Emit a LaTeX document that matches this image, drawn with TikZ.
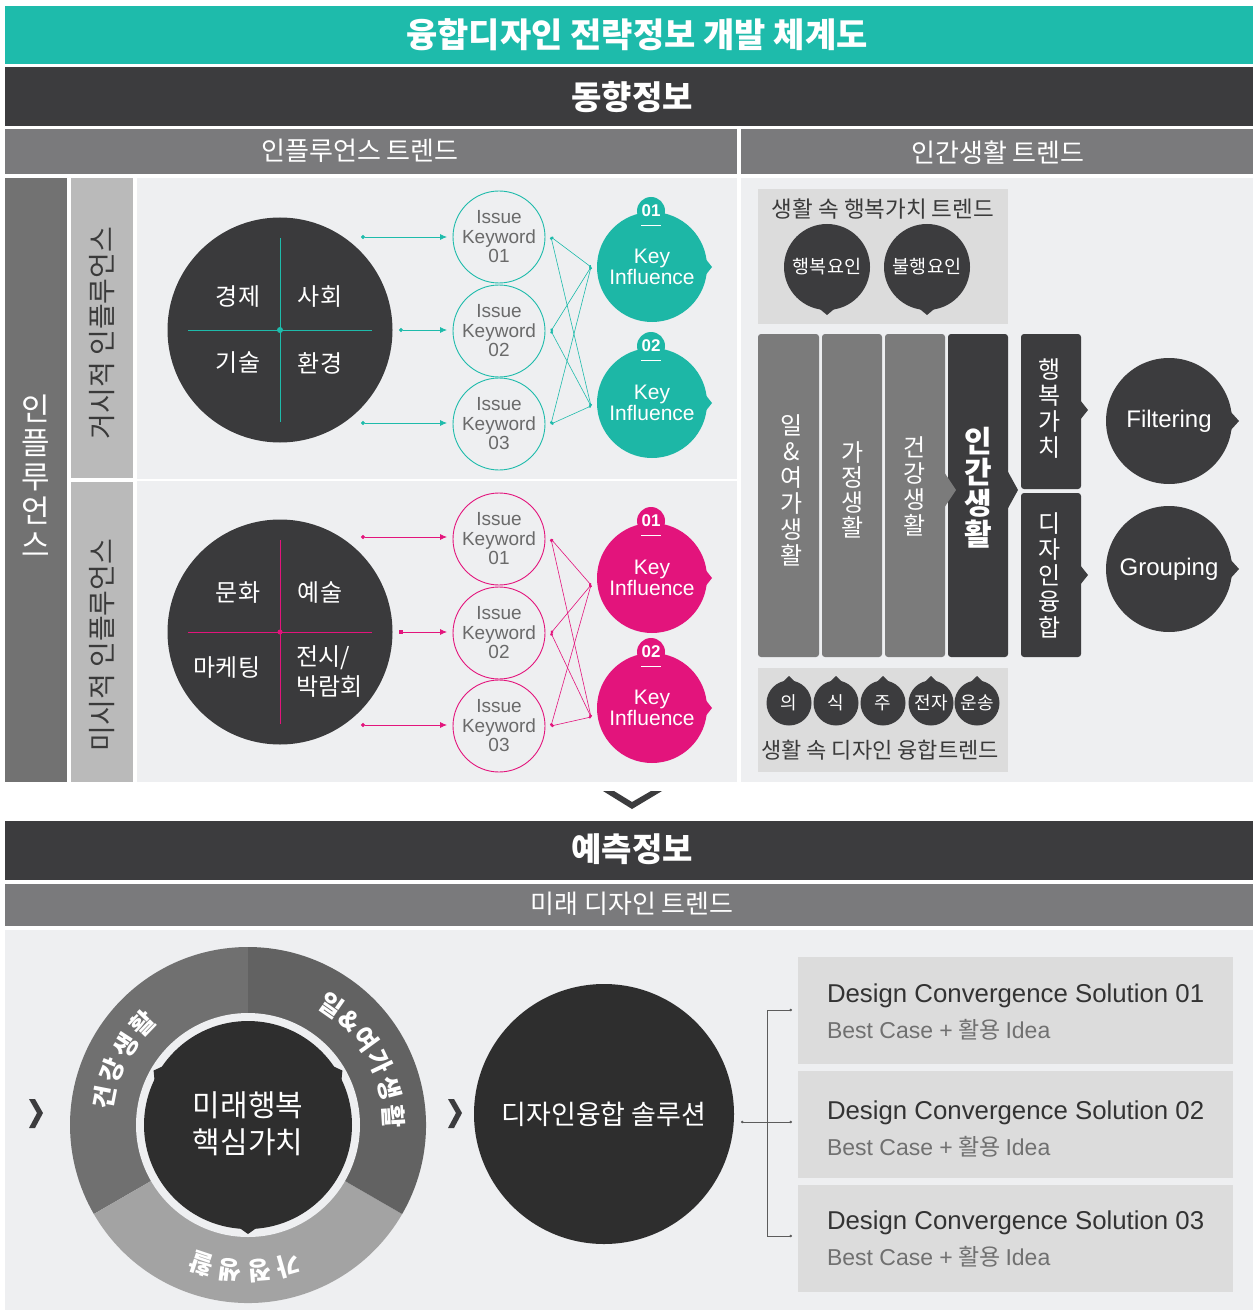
\documentclass[tikz,border=0pt]{standalone}
\usepackage{fontspec}
\setmainfont{Noto Sans CJK KR}
\newfontfamily\lat{Liberation Sans}
\usetikzlibrary{calc,arrows.meta}
\definecolor{teal1}{HTML}{1EBBAB}
\definecolor{kiteal}{HTML}{1DB7A6}
\definecolor{magen}{HTML}{E3147C}
\definecolor{dk}{HTML}{3C3C3E}
\definecolor{circdk}{HTML}{3A3A3C}
\definecolor{gbar}{HTML}{7A7A7C}
\definecolor{gcol}{HTML}{727272}
\definecolor{lgcol}{HTML}{BABABA}
\definecolor{panel}{HTML}{EEEFF1}
\definecolor{boxg}{HTML}{DCDCDC}
\definecolor{colg}{HTML}{7B7B7B}
\definecolor{txtd}{HTML}{3A3A3A}
\definecolor{kwtxt}{HTML}{6A6A6A}
\definecolor{segA}{HTML}{707070}
\definecolor{segB}{HTML}{A3A3A3}
\definecolor{segC}{HTML}{626262}
\definecolor{soldk}{HTML}{2E2E2E}
\definecolor{soltxt}{HTML}{333333}
\definecolor{subtxt}{HTML}{707070}
\newcommand\fsz[2]{\fontsize{#1}{#2}\selectfont}
% pointer: colour, centre node, angle, base radius, tip radius, half angle
\newcommand\ptr[6]{\fill[#1] ($(#2)+(#3-#6:#4pt)$) -- ($(#2)+(#3:#5pt)$) -- ($(#2)+(#3+#6:#4pt)$) -- cycle;}
\begin{document}
\begin{tikzpicture}[x=1pt,y=-1pt,
  every node/.style={inner sep=0pt,outer sep=0pt},
  hd/.style={text=white},
  kw/.style={circle, draw=#1, line width=0.9pt, fill=panel, minimum size=92pt, align=center, text=kwtxt, font=\lat\fsz{19}{19.5}},
  ki/.style={circle, fill=#1, minimum size=110pt, align=center, text=white, font=\lat\fsz{21}{21}},
  tabc/.style={circle, fill=#1, minimum size=28pt, text=white, font=\lat\bfseries\fsz{17}{17}},
  arr/.style={draw=#1, line width=0.8pt, {Circle[length=4pt]}-{Latex[length=7pt,width=6pt]}},
  lnk/.style={draw=#1, line width=0.6pt, {Circle[length=3pt]}-{Circle[length=2.5pt]}},
  bigc/.style={circle, fill=circdk, minimum size=225pt},
  qtxt/.style={text=white, font=\fsz{24}{30}, align=left},
  colt/.style={text=white, align=center, font=\fsz{24}{#1}},
  arct/.style={text=white, font=\bfseries\fsz{25}{25}},
  brk/.style={draw=soltxt!80, line width=0.7pt},
]
\fill[white] (0,0) rectangle (1255,1313);
\useasboundingbox (0,0) rectangle (1255,1313);

% ===== header bars =====
\fill[teal1] (5,6) rectangle (1253,64);
\node[hd, font=\bfseries\fsz{34}{34}] (title) at (637,35) {융합디자인 전략정보 개발 체계도};
\fill[dk] (5,67) rectangle (1253,126);
\node[hd, font=\bfseries\fsz{33}{33}] (trendinfo) at (632,97) {동향정보};
\fill[gbar] (5,129) rectangle (737,174);
\fill[gbar] (741,129) rectangle (1253,174);
\node[hd, font=\fsz{26}{26}] (infltrend) at (360,151) {인플루언스 트렌드};
\node[hd, font=\fsz{26}{26}] (humantrend) at (998,153) {인간생활 트렌드};

% ===== left panel =====
\fill[gcol] (5,178) rectangle (67,782);
\fill[lgcol] (71,178) rectangle (133,478);
\fill[lgcol] (71,482) rectangle (133,782);
\fill[panel] (137,178) rectangle (737,782);
\draw[white, line width=1.5pt] (137,480) -- (737,480);
\fill[panel] (741,178) rectangle (1253,782);

\node[text=white, font=\fsz{31}{34}, align=center] (influ) at (36,476) {인\\플\\루\\언\\스};
\node[rotate=90, text=txtd, font=\fsz{28}{28}] (macrolab) at (102,333) {거시적 인플루언스};
\node[rotate=90, text=txtd, font=\fsz{28}{28}] (microlab) at (102,645) {미시적 인플루언스};

% macro circle
\node[bigc] (macro) at (280,330) {};
\draw[teal1, line width=0.9pt] (188,330) -- (372,330);
\draw[teal1, line width=0.9pt] (280,238) -- (280,422);
\fill[teal1] (macro.center) circle (3pt);
\node[qtxt] (q1) at (238,297) {경제};
\node[qtxt] (q2) at (320,297) {사회};
\node[qtxt] (q3) at (238,363) {기술};
\node[qtxt] (q4) at (320,363) {환경};

% micro circle
\node[bigc] (micro) at (280,632) {};
\draw[magen, line width=0.9pt] (188,632) -- (372,632);
\draw[magen, line width=0.9pt] (280,540) -- (280,724);
\fill[magen] (micro.center) circle (2.5pt);
\node[qtxt] (q5) at (238,593) {문화};
\node[qtxt] (q6) at (320,593) {예술};
\node[qtxt] (q7) at (227,668) {마케팅};
\node[qtxt, anchor=west] (q8) at (296,672) {전시/\\박람회};

% keywords (teal)
\node[kw=teal1] (ka1) at (499,237) {Issue\\Keyword\\01};
\node[kw=teal1] (ka2) at (499,331) {Issue\\Keyword\\02};
\node[kw=teal1] (ka3) at (499,424) {Issue\\Keyword\\03};
\coordinate (sa1) at (361,237);
\coordinate (sa2) at (399,330);
\coordinate (sa3) at (361,423);
\draw[arr=teal1, shorten >=6pt] (sa1) -- (ka1.west);
\draw[arr=teal1, shorten >=6pt] (sa2) -- (ka2.west |- sa2);
\draw[arr=teal1, shorten >=6pt] (sa3) -- (ka3.west |- sa3);

% key influence (teal)
\node[ki=kiteal] (kia1) at (652,267) {Key\\Influence};
\node[tabc=kiteal] (ta1) at (651,211) {01};
\node[ki=kiteal] (kia2) at (652,403) {Key\\Influence};
\node[tabc=kiteal] (ta2) at (651,346) {02};
\draw[white, line width=0.8pt] (641,225) -- (661,225);
\draw[white, line width=0.8pt] (641,360) -- (661,360);
\ptr{kiteal}{kia1}{0}{54}{60}{9}
\ptr{kiteal}{kia2}{0}{54}{60}{9}
\coordinate (pa1) at (591,267);
\coordinate (pa2) at (591,406);
\foreach \k in {1,2,3}{
  \draw[lnk=teal1] ($(ka\k.east)+(6,0)$) -- (pa1);
  \draw[lnk=teal1] ($(ka\k.east)+(6,0)$) -- (pa2);
}

% keywords (magenta)
\node[kw=magen] (kb1) at (499,539) {Issue\\Keyword\\01};
\node[kw=magen] (kb2) at (499,633) {Issue\\Keyword\\02};
\node[kw=magen] (kb3) at (499,726) {Issue\\Keyword\\03};
\coordinate (sb1) at (361,537);
\coordinate (sb2) at (399,632);
\coordinate (sb3) at (361,725);
\draw[arr=magen, shorten >=6pt] (sb1) -- (kb1.west |- sb1);
\draw[draw=magen, line width=0.8pt, {Square[length=4pt]}-{Latex[length=7pt,width=6pt]}, shorten >=6pt] (sb2) -- (kb2.west |- sb2);
\draw[arr=magen, shorten >=6pt] (sb3) -- (kb3.west |- sb3);

\node[ki=magen] (kib1) at (652,578) {Key\\Influence};
\node[tabc=magen] (tb1) at (651,521) {01};
\node[ki=magen] (kib2) at (652,708) {Key\\Influence};
\node[tabc=magen] (tb2) at (651,652) {02};
\draw[white, line width=0.8pt] (641,535) -- (661,535);
\draw[white, line width=0.8pt] (641,666) -- (661,666);
\ptr{magen}{kib1}{0}{54}{60}{9}
\ptr{magen}{kib2}{0}{54}{60}{9}
\coordinate (pb1) at (591,585);
\coordinate (pb2) at (591,717);
\foreach \k in {1,2,3}{
  \draw[lnk=magen] ($(kb\k.east)+(6,0)$) -- (pb1);
  \draw[lnk=magen] ($(kb\k.east)+(6,0)$) -- (pb2);
}

% ===== right panel =====
\fill[boxg] (758,189) rectangle (1008,324);
\node[text=txtd, font=\fsz{22.5}{22.5}] (happytrend) at (883,209) {생활 속 행복가치 트렌드};
\node[circle, fill=dk, minimum size=86pt] (hap) at (827,267) {};
\node[circle, fill=dk, minimum size=86pt] (unhap) at (927,267) {};
\ptr{dk}{hap}{-90}{41}{48}{14}
\ptr{dk}{unhap}{-90}{41}{48}{14}
\node[text=white, font=\fsz{18.5}{18.5}] (haptxt) at (hap) {행복요인};
\node[text=white, font=\fsz{18.5}{18.5}] (unhaptxt) at (unhap) {불행요인};

% columns
\fill[colg, rounded corners=3pt] (758,334) rectangle (819,657);
\fill[colg, rounded corners=3pt] (822,334) rectangle (882,657);
\fill[colg, rounded corners=3pt] (885,334) rectangle (945,657);
\fill[dk, rounded corners=3pt] (948,334) rectangle (1008,657);
\fill[colg] (944,472) -- (956,490) -- (944,508) -- cycle;
\fill[dk] (1007,470) -- (1018,490) -- (1007,510) -- cycle;
\fill[dk, rounded corners=3pt] (1021,334) rectangle (1081,489);
\fill[dk, rounded corners=3pt] (1021,493) rectangle (1081,657);
\fill[dk] (1080,400) -- (1088,410) -- (1080,420) -- cycle;
\fill[dk] (1080,565) -- (1088,575) -- (1080,585) -- cycle;

\node[colt=26] (c1) at (792,490) {일\\\&\\여\\가\\생\\활};
\node[colt=25] (c2) at (853,490) {가\\정\\생\\활};
\node[colt=26] (c3) at (915,486) {건\\강\\생\\활};
\node[text=white, align=center, font=\bfseries\fsz{30}{31}] (c4) at (978,488) {인\\간\\생\\활};
\node[colt=26] (c5) at (1050,409) {행\\복\\가\\치};
\node[colt=26] (c6) at (1050,575) {디\\자\\인\\융\\합};

\node[circle, fill=dk, minimum size=126pt] (filt) at (1169,421) {};
\ptr{dk}{filt}{0}{62}{70}{9}
\node[text=white, font=\lat\fsz{24}{24}] (filttxt) at (filt) {Filtering};
\node[circle, fill=dk, minimum size=126pt] (grp) at (1169,569) {};
\ptr{dk}{grp}{0}{62}{70}{9}
\node[text=white, font=\lat\fsz{24}{24}] (grptxt) at (grp) {Grouping};

\fill[boxg] (758,668) rectangle (1008,772);
\foreach \t/\x [count=\i] in {의/789,식/836,주/883,전자/931,운송/977}{
  \node[circle, fill=dk, minimum size=45pt] (lc\i) at (\x,703) {};
  \ptr{dk}{lc\i}{90}{21}{27}{22}
  \node[text=white, font=\fsz{18}{18}] (lt\i) at (lc\i) {\t};
}
\node[text=txtd, font=\fsz{22}{22}] (designtrend) at (880,750) {생활 속 디자인 융합트렌드};

% down chevron
\fill[dk] (603,791) -- (632,809) -- (662,791) -- (651,791) -- (632,802) -- (614,791) -- cycle;

% ===== bottom =====
\fill[dk] (5,821) rectangle (1253,880);
\node[hd, font=\bfseries\fsz{33}{33}] (forecast) at (632,849) {예측정보};
\fill[gbar] (5,884) rectangle (1253,926);
\node[hd, font=\fsz{26}{26}] (futuretrend) at (632,904) {미래 디자인 트렌드};
\fill[panel] (5,930) rectangle (1253,1310);

% ring
\coordinate (rc) at (248,1125);
\fill[segA] (rc) -- ++(90:178pt) arc[start angle=90, end angle=210, radius=178pt] -- cycle;
\fill[segB] (rc) -- ++(210:178pt) arc[start angle=210, end angle=330, radius=178pt] -- cycle;
\fill[segC] (rc) -- ++(330:178pt) arc[start angle=330, end angle=450, radius=178pt] -- cycle;
\fill[panel] (rc) circle (112pt);
\node[circle, fill=soldk, minimum size=208pt] (core) at (rc) {};
\ptr{soldk}{core}{150}{103}{109}{5}
\ptr{soldk}{core}{30}{103}{109}{5}
\ptr{soldk}{core}{-90}{103}{109}{5}
\node[text=white, align=center, font=\fsz{30}{37}] (coretxt) at (248,1124) {미래행복\\핵심가치};
\foreach \c/\a [count=\i] in {건/169,강/158,생/147,활/136}{
  \node[rotate=\a-90, arct] (ra\i) at ($(rc)+(\a:146pt)$) {\c};
}
\foreach \c/\a [count=\i] in {일/55,\&/45.5,여/36,가/25.5,생/14.5,활/3.5}{
  \node[rotate=\a-90, arct] (rb\i) at ($(rc)+(\a:146pt)$) {\c};
}
\foreach \c/\a [count=\i] in {가/-74,정/-85.5,생/-97,활/-108.5}{
  \node[rotate=\a-90, arct] (rd\i) at ($(rc)+(\a:146pt)$) {\c};
}

% chevrons
\fill[dk] (29,1099) -- (35,1099) -- (43,1113) -- (35,1128) -- (29,1128) -- (37,1113) -- cycle;
\fill[dk] (448,1099) -- (454,1099) -- (462,1113) -- (454,1128) -- (448,1128) -- (456,1113) -- cycle;

% solution circle
\node[circle, fill=soldk, minimum size=260pt, text=white, font=\fsz{27}{27}] (sol) at (604,1114) {디자인융합 솔루션};

% solution boxes
\node[fill=boxg, minimum width=435pt, minimum height=107pt, anchor=north west] (box1) at (798,957) {};
\node[fill=boxg, minimum width=435pt, minimum height=107pt, anchor=north west] (box2) at (798,1071) {};
\node[fill=boxg, minimum width=435pt, minimum height=107pt, anchor=north west] (box3) at (798,1185) {};
\foreach \i/\y in {1/996,2/1113,3/1223}{
  \node[anchor=west, text=soltxt, font=\lat\fsz{25.8}{25.8}] (st\i) at (827,\y) {Design Convergence Solution 0\i};
  \node[anchor=west, text=subtxt, font=\fsz{23}{23}] (ss\i) at (827,\y+34) {{\lat Best Case +} 활용 {\lat Idea}};
}

% bracket
\coordinate (br0) at (741,1122);
\coordinate (br1) at (792,1010);
\coordinate (br2) at (792,1122);
\coordinate (br3) at (792,1236);
\draw[brk, {Circle[length=2.5pt]}-{Circle[length=2.5pt]}] (br0) -- (br2);
\draw[brk, {Circle[length=2.5pt]}-{Circle[length=2.5pt]}] (br1) -- ++(-25,0) |- (br3);
\end{tikzpicture}
\end{document}
